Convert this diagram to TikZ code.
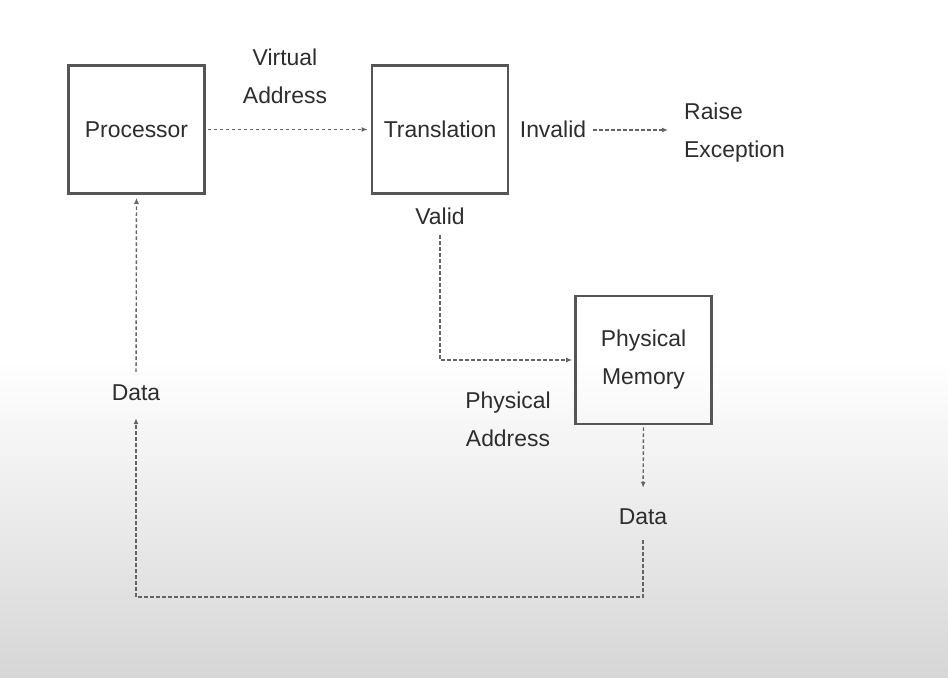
\documentclass[tikz,border=0pt]{standalone}
\usepackage{fontspec}
\setmainfont{Liberation Sans}
\usetikzlibrary{arrows.meta}
\definecolor{txt}{RGB}{45,45,45}
\definecolor{boxline}{RGB}{85,85,85}
\definecolor{conn}{RGB}{100,100,100}
\definecolor{bgbottom}{RGB}{214,214,214}
\begin{document}
\begin{tikzpicture}[x=1bp,y=-1bp,
  every node/.style={text=txt,font=\fontsize{23}{38}\selectfont},
  blockbox/.style={draw=boxline,line width=2.6bp,minimum width=136bp,minimum height=128bp,inner sep=0pt,align=center},
  lbl/.style={inner sep=0pt,text height=16bp,text depth=0bp,align=center},
  conn/.style={draw=conn,line width=1.4bp,dash pattern=on 3.5bp off 2.5bp},
  arr/.style={conn,-{Latex[length=6bp,width=5bp]}}]
% background
\fill[white] (0,0) rectangle (948,678);
\shade[top color=white,bottom color=bgbottom] (0,360) rectangle (948,678);
\useasboundingbox (0,0) rectangle (948,678);
% blocks
\node[blockbox] (proc) at (136.5,129.5) {Processor};
\node[blockbox] (trans) at (440,129.5) {Translation};
\node[blockbox] (mem) at (643.5,360) {Physical\\Memory};
% labels
\node[align=center,inner sep=0pt] (va) at (285,76) {Virtual\\Address};
\node[lbl] (inv) at (553,130) {Invalid};
\node[align=left,inner sep=0pt,anchor=west] (raise) at (684,133) {Raise\\Exception};
\node[lbl] (valid) at (440,216) {Valid};
\node[align=center,inner sep=0pt] (pa) at (508,419) {Physical\\Address};
\node[lbl] (data2) at (643,516) {Data};
\node[lbl] (data1) at (136,392) {Data};
\coordinate (c1) at (643,597);
\coordinate (c2) at (136,597);
% connectors
\draw[arr,shorten <=2bp,shorten >=3bp] (proc.east) -- (trans.west);
\draw[arr,shorten <=7bp,shorten >=16bp] (inv.east) -- (inv.east -| raise.west);
\draw[arr,shorten <=11bp,shorten >=2bp] (valid.south) |- (mem.west);
\draw[arr,shorten <=2bp,shorten >=20bp] (mem.south) -- (data2.north);
\draw[arr] ([yshift=-16bp]data2.south) -- (c1) -- (c2) -- ([yshift=-18bp]data1.south);
\draw[arr,shorten <=12bp,shorten >=3bp] (data1.north) -- (proc.south);
\end{tikzpicture}
\end{document}
